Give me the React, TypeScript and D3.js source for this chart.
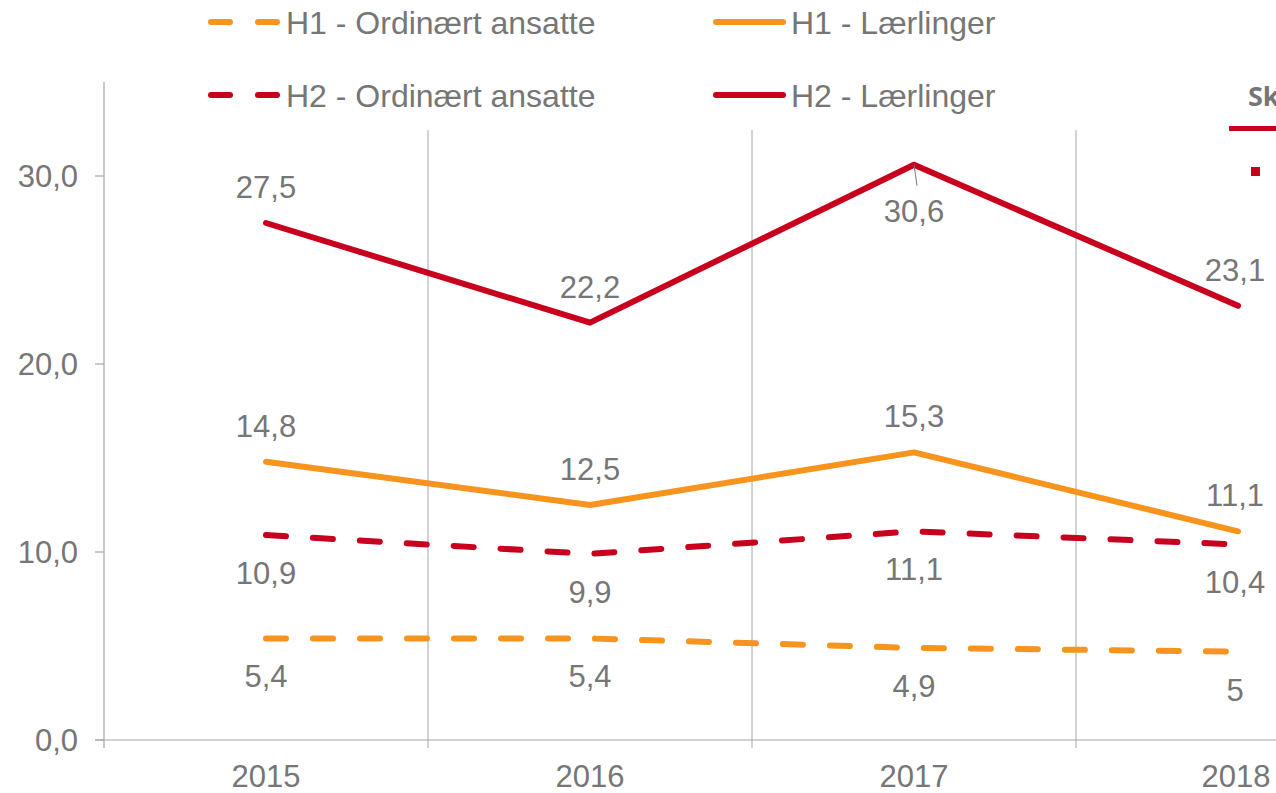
import React from "react";
import * as d3 from "d3";

const years = ["2015", "2016", "2017", "2018"];
const h1Ordinaert = [5.4, 5.4, 4.9, 4.7];
const h1OrdinaertLabels = ["5,4", "5,4", "4,9", "5"];
const h1Laerlinger = [14.8, 12.5, 15.3, 11.1];
const h2Ordinaert = [10.9, 9.9, 11.1, 10.4];
const h2Laerlinger = [27.5, 22.2, 30.6, 23.1];
const yTicks = [0, 10, 20, 30];

const ORANGE = "#F7941E";
const RED = "#C8001E";
const GRAY = "#767676";
const AXIS = "#A6A6A6";
const FONT = "'Liberation Sans', Arial, sans-serif";
const FS = 31;

const fmt = (v: number) => v.toFixed(1).replace(".", ",");

export default function App() {
  const W = 1276, H = 793;
  const x = d3.scaleBand<string>().domain(years).range([104, 1400]);
  const y = d3.scaleLinear().domain([0, 35]).range([740, 82]);
  const cx = (d: string) => (x(d) as number) + x.bandwidth() / 2;
  const line = d3.line<number>().x((_, i) => cx(years[i])).y((v) => y(v));

  const series = [
    { vals: h1Ordinaert, color: ORANGE, dash: true, labels: h1OrdinaertLabels, pos: [1, 1, 1, 1] },
    { vals: h2Ordinaert, color: RED, dash: true, labels: h2Ordinaert.map(fmt), pos: [1, 1, 1, 1] },
    { vals: h1Laerlinger, color: ORANGE, dash: false, labels: h1Laerlinger.map(fmt), pos: [-1, -1, -1, -1] },
    { vals: h2Laerlinger, color: RED, dash: false, labels: h2Laerlinger.map(fmt), pos: [-1, -1, 1, -1] },
  ];

  const gridTop = 130;
  const legend = [
    { label: "H1 - Ordinært ansatte", color: ORANGE, dash: true, lx: 208, ly: 22 },
    { label: "H1 - Lærlinger", color: ORANGE, dash: false, lx: 713, ly: 22 },
    { label: "H2 - Ordinært ansatte", color: RED, dash: true, lx: 208, ly: 95 },
    { label: "H2 - Lærlinger", color: RED, dash: false, lx: 713, ly: 95 },
  ];

  return (
    <svg width={W} height={H} style={{ position: "absolute", left: 0, top: 0, background: "#fff" }} fontFamily={FONT}>
      {/* gridlines */}
      {years.slice(1).map((d) => (
        <line key={d} x1={x(d)} x2={x(d)} y1={gridTop} y2={748} stroke={AXIS} strokeWidth={1} />
      ))}
      {/* y axis */}
      <line x1={104} x2={104} y1={y(35)} y2={748} stroke={AXIS} strokeWidth={1.2} />
      {yTicks.map((t) => (
        <g key={t}>
          <line x1={95} x2={104} y1={y(t)} y2={y(t)} stroke={AXIS} strokeWidth={1.2} />
          <text x={78} y={y(t) + 11} textAnchor="end" fontSize={FS} fill={GRAY}>{fmt(t)}</text>
        </g>
      ))}
      {/* x axis */}
      <line x1={95} x2={W} y1={y(0)} y2={y(0)} stroke={AXIS} strokeWidth={1.2} />
      {years.map((d, i) => (
        <text key={d} x={cx(d) - (i === 3 ? 2 : 0)} y={787} textAnchor="middle" fontSize={FS} fill={GRAY}>{d}</text>
      ))}
      {/* lines */}
      {series.map((s, si) => (
        <path key={si} d={line(s.vals) as string} fill="none" stroke={s.color} strokeWidth={6}
          strokeLinecap="round" strokeLinejoin="round" strokeDasharray={s.dash ? "20,27" : undefined} />
      ))}
      {/* leader line for 30,6 */}
      <line x1={cx("2017")} y1={y(h2Laerlinger[2])} x2={cx("2017") + 3} y2={y(h2Laerlinger[2]) + 21} stroke={GRAY} strokeWidth={1} />
      {/* data labels */}
      {series.map((s, si) =>
        s.vals.map((v, i) => (
          <text key={`${si}-${i}`} x={cx(years[i]) - (i === 3 ? 3 : 0)}
            y={s.pos[i] > 0 ? y(v) + (si === 3 ? 57 : 49) : y(v) - 25}
            textAnchor="middle" fontSize={FS} fill={GRAY}>{s.labels[i]}</text>
        ))
      )}
      {/* legend */}
      {legend.map((l) => (
        <g key={l.label}>
          <line x1={l.lx + 3} x2={l.lx + 70} y1={l.ly} y2={l.ly} stroke={l.color} strokeWidth={6}
            strokeLinecap="round" strokeDasharray={l.dash ? "19,28" : undefined} />
          <text x={l.lx + 78} y={l.ly + 12} fontSize={32} fill={GRAY}>{l.label}</text>
        </g>
      ))}
      {/* cropped second legend at right */}
      <text x={1248} y={106} fontSize={27} fontWeight="bold" fill={GRAY} fontFamily="'Open Sans', sans-serif">Sk</text>
      <line x1={1229} x2={W} y1={128.5} y2={128.5} stroke={RED} strokeWidth={5} />
      <rect x={1251} y={167} width={9} height={9} fill={RED} />
    </svg>
  );
}
